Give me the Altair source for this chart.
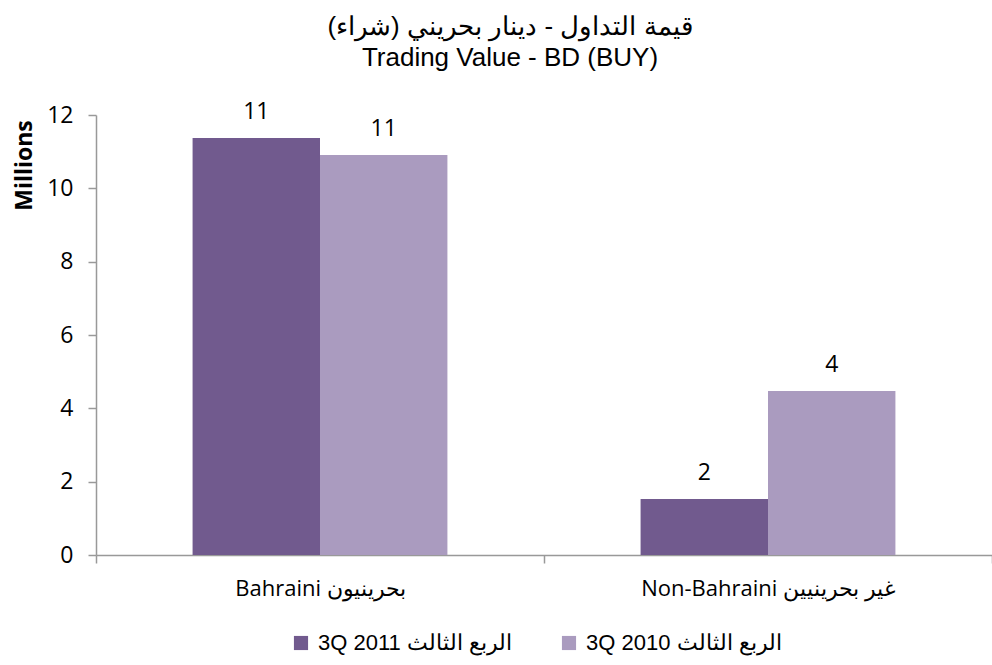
import altair as alt
import pandas as pd

categories = ["Bahraini  بحرينيون", "Non-Bahraini غير بحرينيين"]
series = ["3Q 2011 الربع الثالث", "3Q 2010 الربع الثالث"]
values_2011 = [11.37, 1.53]
values_2010 = [10.91, 4.47]
y_ticks = [0, 2, 4, 6, 8, 10, 12]
colors = ["#715a8e", "#aa9bbf"]
title_lines = ["قيمة التداول - دينار بحريني (شراء)", "Trading Value - BD (BUY)"]

rows = []
for c, v1, v2 in zip(categories, values_2011, values_2010):
    rows.append({"category": c, "series": series[0], "value": v1})
    rows.append({"category": c, "series": series[1], "value": v2})
df = pd.DataFrame(rows)

axis_color = "#999999"

base = alt.Chart(df).encode(
    x=alt.X(
        "category:N",
        sort=categories,
        scale=alt.Scale(paddingInner=0, paddingOuter=0),
        axis=alt.Axis(
            title=None,
            labelAngle=0,
            tickBand="extent",
            tickSize=8,
            tickColor=axis_color,
            tickWidth=1.5,
            domainColor=axis_color,
            domainWidth=1.5,
            labelFont="Open Sans",
            labelFontSize=22,
            labelColor="#000000",
            labelPadding=15,
            labelLimit=500,
        ),
    ),
    xOffset=alt.XOffset(
        "series:N", sort=series, scale=alt.Scale(paddingInner=0, paddingOuter=0.758)
    ),
    y=alt.Y(
        "value:Q",
        scale=alt.Scale(domain=[0, 12], nice=False),
        axis=alt.Axis(
            values=y_ticks,
            grid=False,
            title="Millions",
            titleFont="Open Sans",
            titleFontSize=23,
            titleFontWeight="bold",
            titleColor="#000000",
            titleX=-60,
            titleY=50,
            titleAngle=-90,
            titleAlign="center",
            titleBaseline="bottom",
            tickSize=8,
            tickColor=axis_color,
            tickWidth=1.5,
            domainColor=axis_color,
            domainWidth=1.5,
            labelFont="Open Sans",
            labelFontSize=23,
            labelColor="#000000",
            labelPadding=15,
        ),
    ),
)

bars = base.mark_bar().encode(
    color=alt.Color(
        "series:N",
        sort=series,
        scale=alt.Scale(domain=series, range=colors),
        legend=alt.Legend(
            title=None,
            orient="none",
            direction="horizontal",
            legendX=194,
            legendY=517,
            symbolType="square",
            symbolSize=200,
            symbolStrokeWidth=0,
            symbolOpacity=1,
            labelFont="Liberation Sans",
            labelFontSize=22,
            labelColor="#000000",
            labelOffset=6,
            columnPadding=46,
            labelLimit=400,
        ),
    )
)

labels = base.mark_text(
    baseline="bottom", dy=-14, fontSize=23, font="Open Sans", color="#000000"
).encode(text=alt.Text("value:Q", format=".0f"))

chart = (
    (bars + labels)
    .properties(
        width=896,
        height=440,
        autosize=alt.AutoSizeParams(type="none"),
        padding={"left": 96, "top": 115, "right": 0, "bottom": 110},
        title=alt.TitleParams(
            text=title_lines,
            font="Liberation Sans",
            fontSize=26,
            fontWeight="normal",
            color="#000000",
            lineHeight=31,
            anchor="middle",
            dx=-34,
            offset=30,
        ),
    )
    .configure(background="#ffffff")
    .configure_view(stroke=None)
)

chart.save("out.html", embed_options={"renderer": "svg", "actions": False})
